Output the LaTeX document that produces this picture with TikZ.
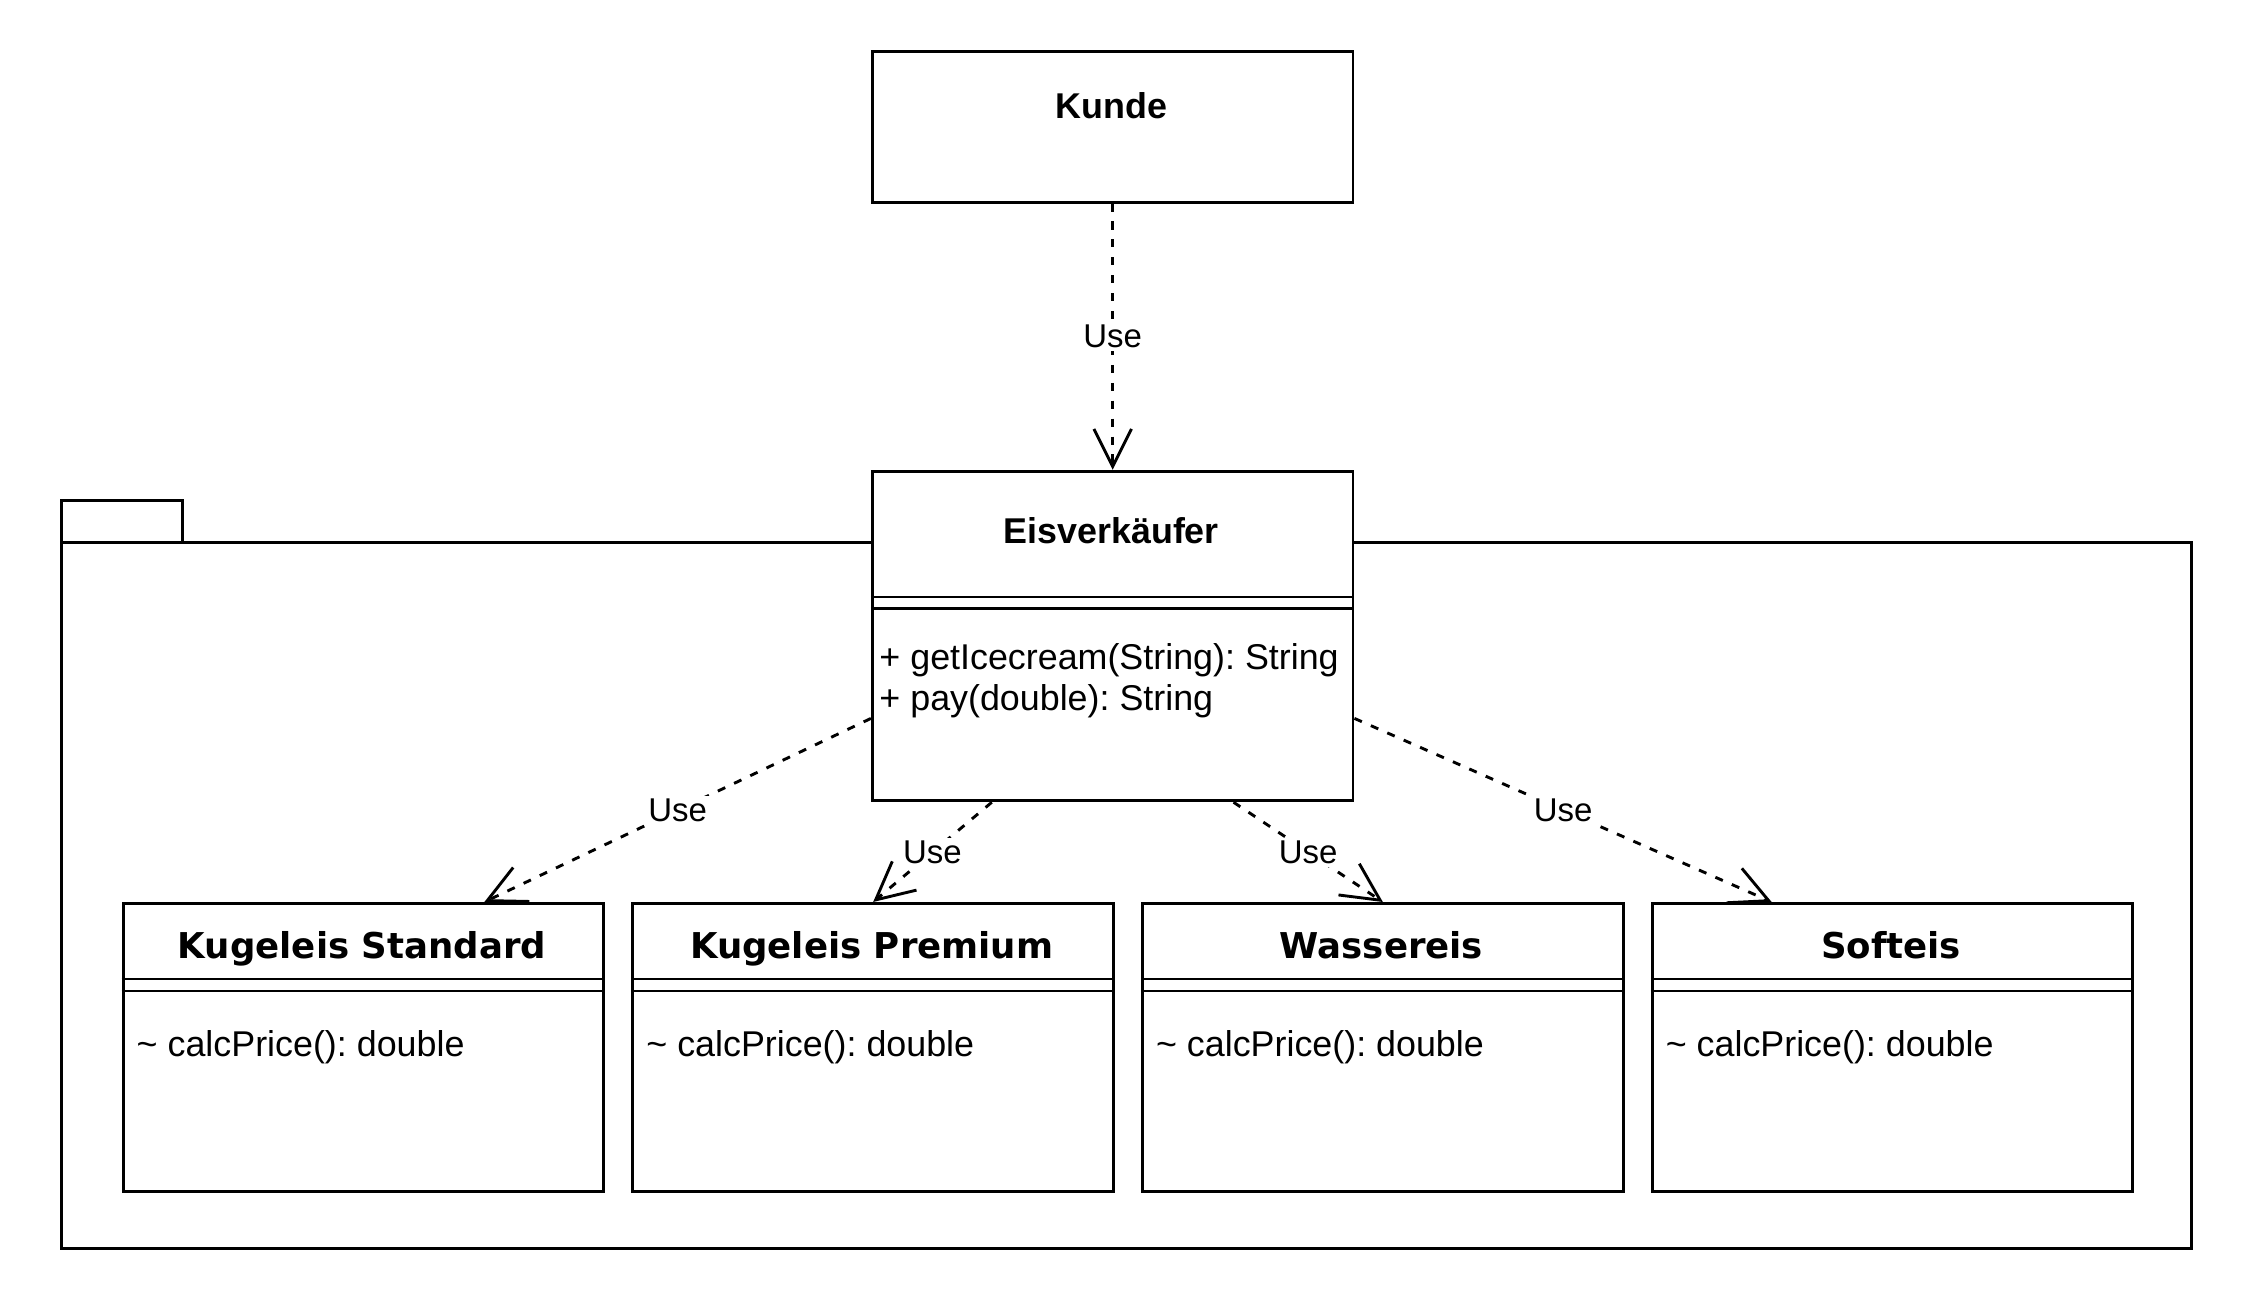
\documentclass[tikz,border=0pt]{standalone}
\usepackage{fontspec}
\setmainfont{Liberation Sans}
\newfontfamily\dejavu{DejaVu Sans}
\usetikzlibrary{arrows.meta,calc}
\frenchspacing
\begin{document}
\begin{tikzpicture}[x=0.5pt,y=-0.5pt,
  ln/.style={line width=1pt},
  box/.style={draw,line width=1pt,fill=white,inner sep=0pt,anchor=north west,minimum width=166.25pt},
  headfont/.style={inner sep=0pt,anchor=base,font=\fontsize{12.4}{15}\selectfont\bfseries},
  classfont/.style={inner sep=0pt,anchor=base,font=\dejavu\fontsize{12.3}{15}\selectfont\bfseries},
  methfont/.style={inner sep=0pt,anchor=base west,font=\fontsize{12.4}{14.2}\selectfont},
  dep/.style={line width=1pt,dash pattern=on 2.8pt off 3.4pt,-{Straight Barb[length=13pt,width=13pt,line width=1pt]}},
  lbl/.style={fill=white,inner sep=1pt,font=\fontsize{11.4}{13}\selectfont}]
\useasboundingbox (0,0) rectangle (1560,898);
% package
\draw[ln] (42.7,375) rectangle (1516,864);
\draw[ln] (42.7,375) -- (42.7,346) -- (126.5,346) -- (126.5,375);
% Kunde
\node[box,minimum height=52.1pt] (kunde) at (602.5,34.6) {};
\node[headfont] (kundeT) at (768.75,81.8) {Kunde};
% Eisverkaeufer
\node[box,minimum height=114pt] (eis) at (602.5,325) {};
\node[headfont] (eisT) at (768.75,376) {Eisverkäufer};
\draw[ln] (602.5,413) -- (935,413);
\draw[ln] (602.5,421.2) -- (935,421.2);
\node[methfont] (eisM1) at (608,463) {+ getIcecream(String): String};
\node[methfont] (eisM2) at (608,491.3) {+ pay(double): String};
% classes
\foreach \n/\xl/\t in {c1/84.2/Kugeleis Standard,c2/436.8/Kugeleis Premium,c3/789.4/Wassereis,c4/1142/Softeis}{
  \node[box,minimum height=99.5pt] (\n) at (\xl,624) {};
  \draw[ln] (\xl,677.3) -- ++(332.5,0);
  \draw[ln] (\xl,685.6) -- ++(332.5,0);
  \node[classfont] (\n-t) at (\xl+166.25,663.4) {\t};
  \node[methfont] (\n-m) at (\xl+10,731) {\textasciitilde{} calcPrice(): double};
}
% dependencies
\draw[dep] (kunde.south) -- node[lbl] {Use} (eis.north);
\draw[dep] ($(eis.north west)+(0,172)$) -- node[lbl] {Use} ($(c1.north west)!0.75!(c1.north east)$);
\draw[dep] ($(eis.south west)!0.25!(eis.south east)$) -- node[lbl] {Use} (c2.north);
\draw[dep] ($(eis.south west)!0.75!(eis.south east)$) -- node[lbl] {Use} (c3.north);
\draw[dep] ($(eis.north east)+(0,172)$) -- node[lbl] {Use} ($(c4.north west)!0.25!(c4.north east)$);
\end{tikzpicture}
\end{document}
